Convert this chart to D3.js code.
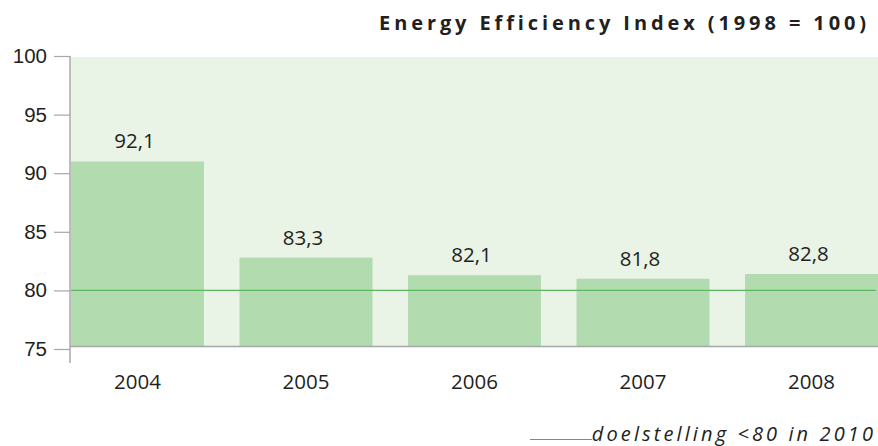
<!DOCTYPE html>
<html>
<head>
<meta charset="utf-8"/>
<title>Energy Efficiency Index</title>
<script src="https://d3js.org/d3.v7.min.js"></script>
<style>
  body { margin: 0; background: white; }
  svg { display: block; font-family: "Open Sans", "Noto Sans", sans-serif; }
  .lbl { fill: #231f20; font-size: 20.5px; }
</style>
</head>
<body>
<svg id="chart" width="878" height="446"></svg>
<script>
// data
var years = ["2004", "2005", "2006", "2007", "2008"];
var barValues = [91.0, 82.8, 81.3, 81.0, 81.4];
var barLabels = ["92,1", "83,3", "82,1", "81,8", "82,8"];
var yTicks = [75, 80, 85, 90, 95, 100];
var target = 80;

var svg = d3.select("#chart");
var left = 71, right = 878, bottom = 346.5;

var x = d3.scaleBand(years, [left, right]).paddingInner(0.211).paddingOuter(0);
var y = d3.scaleLinear([75, 100], [349, 56]);

// plot background
svg.append("rect")
  .attr("x", left).attr("y", y(100) + 1)
  .attr("width", right - left).attr("height", bottom - y(100) - 1)
  .attr("fill", "#e9f3e6");

// bars
svg.selectAll("rect.bar")
  .data(years)
  .enter().append("rect")
  .attr("class", "bar")
  .attr("x", d => x(d))
  .attr("y", (d, i) => y(barValues[i]))
  .attr("width", x.bandwidth())
  .attr("height", (d, i) => bottom - y(barValues[i]))
  .attr("fill", "#b3dbb0");

// value labels
svg.selectAll("text.val")
  .data(years)
  .enter().append("text")
  .attr("class", "lbl")
  .attr("x", d => x(d) + x.bandwidth() / 2 - 3)
  .attr("y", (d, i) => y(barValues[i]) - 13)
  .attr("text-anchor", "middle")
  .text((d, i) => barLabels[i]);

// target line
svg.append("line")
  .attr("x1", left).attr("x2", 876)
  .attr("y1", y(target)).attr("y2", y(target))
  .attr("stroke", "#5cb85c").attr("stroke-width", 1.3);

// y axis
var yAxis = svg.append("g").attr("transform", "translate(70,0)")
  .call(d3.axisLeft(y).tickValues(yTicks).tickSize(16).tickPadding(7));
yAxis.select(".domain").remove();
yAxis.selectAll(".tick line").attr("stroke", "#a7a7a9").attr("stroke-width", 1.2);
yAxis.selectAll(".tick text").attr("class", "lbl").attr("font-size", null).attr("font-family", null);

svg.append("line")
  .attr("x1", 70).attr("x2", 70).attr("y1", y(100)).attr("y2", 363)
  .attr("stroke", "#a7a7a9").attr("stroke-width", 1.5);
svg.append("line")
  .attr("x1", 70).attr("x2", right).attr("y1", bottom).attr("y2", bottom)
  .attr("stroke", "#a7a7a9").attr("stroke-width", 1.5);

// x labels
svg.selectAll("text.yr")
  .data(years)
  .enter().append("text")
  .attr("class", "lbl")
  .attr("x", d => x(d) + x.bandwidth() / 2)
  .attr("y", 389)
  .attr("text-anchor", "middle")
  .text(d => d);

// title
svg.append("text")
  .attr("x", 870).attr("y", 30)
  .attr("text-anchor", "end")
  .attr("font-size", 20).attr("font-weight", "bold")
  .attr("letter-spacing", 3.9).attr("fill", "#231f20")
  .text("Energy Efficiency Index (1998 = 100)");

// footnote
svg.append("line")
  .attr("x1", 530).attr("x2", 592).attr("y1", 439.5).attr("y2", 439.5)
  .attr("stroke", "#4cb04c").attr("stroke-width", 1.2);
svg.append("text")
  .attr("x", 876).attr("y", 441)
  .attr("text-anchor", "end")
  .attr("font-size", 20).attr("font-style", "italic")
  .attr("letter-spacing", 3.1).attr("fill", "#231f20")
  .text("doelstelling <80 in 2010");
</script>
</body>
</html>
